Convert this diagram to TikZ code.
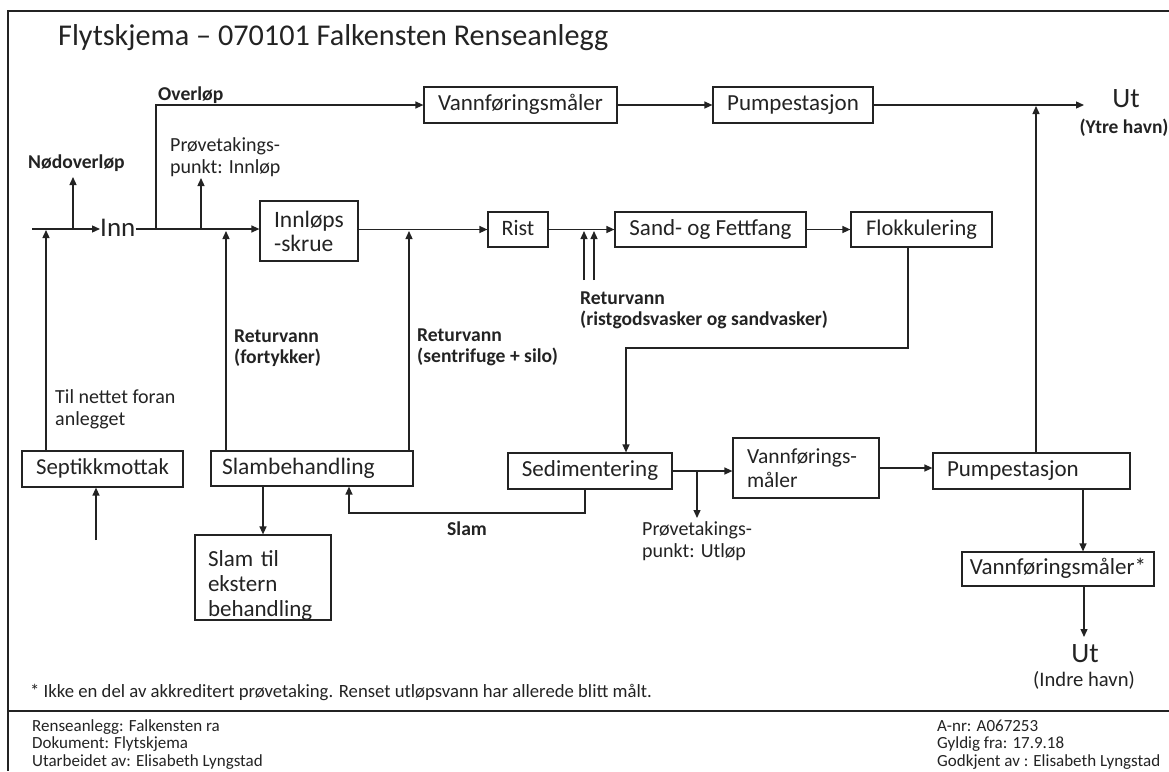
\documentclass[tikz,border=0pt]{standalone}
\usepackage{fontspec}
\setmainfont{Carlito}
\usetikzlibrary{arrows.meta}
\definecolor{ink}{RGB}{35,35,35}
\begin{document}
\begin{tikzpicture}[x=1pt,y=-1pt,
 ln/.style={draw=ink,line width=1.3pt},
 arr/.style={draw=ink,line width=1.3pt,-{Triangle[length=8pt,width=7pt]}},
 box/.style={draw=ink,line width=1.2pt,inner sep=0pt,text=ink,font=\fontsize{23}{25}\selectfont},
 one/.style={text height=16pt,text depth=4.7pt},
 lbl/.style={text=ink,inner sep=0pt,anchor=base west,align=left,font=\fontsize{20}{21.5}\selectfont},
 blbl/.style={text=ink,inner sep=0pt,anchor=base west,align=left,font=\bfseries\fontsize{19.6}{21}\selectfont},
 foot/.style={text=ink,inner sep=0pt,anchor=base west,font=\fontsize{17}{18}\selectfont}]
\useasboundingbox (0,0) rectangle (1169,771);
\fill[white] (0,0) rectangle (1169,771);
% frame
\draw[draw=ink,line width=1.5pt] (1169,11) -- (8,11) -- (8,771);
\draw[draw=ink,line width=1.5pt] (8,711) -- (1169,711);

% title
\node[text=ink,inner sep=0pt,anchor=base west,font=\fontsize{30.2}{34}\selectfont] (title) at (58,45) {Flytskjema – 070101 Falkensten Renseanlegg};

% boxes
\node[box,one,minimum width=193pt,minimum height=36pt] (vm1) at (520.5,105) {Vannføringsmåler};
\node[box,one,minimum width=160pt,minimum height=36pt] (ps1) at (793,105) {Pumpestasjon};
\node[box,minimum width=98pt,minimum height=60pt,align=left,font=\fontsize{23.5}{24}\selectfont] (is) at (309,231) {Innløps\\-skrue};
\node[box,one,minimum width=60pt,minimum height=35pt,font=\fontsize{22}{25}\selectfont] (rist) at (518,229.5) {Rist};
\node[box,one,minimum width=191pt,minimum height=35pt] (sf) at (710.5,229.5) {Sand- og Fettfang};
\node[box,one,minimum width=141pt,minimum height=35pt,font=\fontsize{22.4}{25}\selectfont] (fl) at (921.5,229.5) {Flokkulering};
\node[box,one,minimum width=161pt,minimum height=36pt,font=\fontsize{22.8}{25}\selectfont] (sep) at (102.5,469) {Septikkmottak};
\node[box,one,minimum width=202pt,minimum height=35pt,text width=180pt,inner xsep=11pt,align=left,font=\fontsize{23.5}{25}\selectfont] (sb) at (312,468.5) {Slambehandling};
\node[box,one,minimum width=164pt,minimum height=36pt] (sed) at (590,471) {Sedimentering};
\node[box,minimum width=146pt,minimum height=60pt,text width=118pt,inner xsep=14pt,align=left,font=\fontsize{21.5}{24}\selectfont] (vm2) at (806,468) {Vannførings-\\måler};
\node[box,one,minimum width=197pt,minimum height=36pt,text width=169pt,inner xsep=14pt,align=left] (ps2) at (1031.5,471) {Pumpestasjon};
\node[box,one,minimum width=192pt,minimum height=34pt] (vm3) at (1058,569) {Vannføringsmåler*};
\node[box,minimum width=136pt,minimum height=85pt,text width=110pt,inner xsep=13pt,align=left] (slx) at (263,577.5) {\rule{0pt}{31pt}Slam til\\ekstern\\behandling};

% terminal texts
\node[text=ink,inner sep=0pt,anchor=base west,font=\fontsize{27}{30}\selectfont] (inn) at (100,236) {Inn};
\node[text=ink,inner sep=0pt,anchor=base,font=\fontsize{28}{30}\selectfont] (ut1) at (1126,107) {Ut};
\node[text=ink,inner sep=0pt,anchor=base,font=\bfseries\fontsize{19.5}{20}\selectfont] (ut1b) at (1124,133) {(Ytre havn)};
\node[text=ink,inner sep=0pt,anchor=base,font=\fontsize{28}{30}\selectfont] (ut2) at (1085,662) {Ut};
\node[text=ink,inner sep=0pt,anchor=base,font=\fontsize{20.6}{22}\selectfont] (ut2b) at (1084,686) {(Indre havn)};

% labels (multi-line: placed at the last line's baseline)
\node[blbl] (lover) at (158,100) {Overløp};
\node[blbl] (lnod) at (28,168) {Nødoverløp};
\node[lbl] (lpr1) at (170,173) {Prøvetakings-\\punkt: Innløp};
\node[blbl] (lfort) at (234,363) {Returvann\\(fortykker)};
\node[blbl] (lsent) at (417,362) {Returvann\\(sentrifuge + silo)};
\node[blbl] (lrist) at (580,325) {Returvann\\(ristgodsvasker og sandvasker)};
\node[lbl] (ltil) at (55,425) {Til nettet foran\\anlegget};
\node[blbl] (lslam) at (447,535) {Slam};
\node[lbl] (lpr2) at (642,557) {Prøvetakings-\\punkt: Utløp};

% footnote and footer
\node[text=ink,inner sep=0pt,anchor=base west,font=\fontsize{18.7}{20}\selectfont] (note) at (30,697) {* Ikke en del av akkreditert prøvetaking. Renset utløpsvann har allerede blitt målt.};
\node[foot] (f1) at (32,731) {Renseanlegg: Falkensten ra};
\node[foot] (f2) at (32,748.5) {Dokument: Flytskjema};
\node[foot] (f3) at (32,766) {Utarbeidet av: Elisabeth Lyngstad};
\node[foot] (f4) at (937,731) {A-nr: A067253};
\node[foot] (f5) at (937,748.5) {Gyldig fra: 17.9.18};
\node[foot] (f6) at (937,766) {Godkjent av : Elisabeth Lyngstad};

% coordinates
\coordinate (inStart) at (32,229);
\coordinate (jNod) at (73,229);
\coordinate (nodTop) at (73,177);
\coordinate (jSep) at (46,230);
\coordinate (sepBelow) at (96,540);
\coordinate (jOver) at (156,229);
\coordinate (overTop) at (156,105);
\coordinate (jPr1) at (201,229);
\coordinate (pr1Top) at (201,178);
\coordinate (jFort) at (226,231);
\coordinate (jSentr) at (409,231);
\coordinate (jR1) at (584,231);
\coordinate (jR2) at (594,231);
\coordinate (r1Bot) at (584,280);
\coordinate (r2Bot) at (594,280);
\coordinate (c1) at (908,348);
\coordinate (c2) at (626,348);
\coordinate (jPr2) at (697,471);
\coordinate (pr2Bot) at (697,518);
\coordinate (jUt) at (1036,106);
\coordinate (utTip) at (1084,105);
\coordinate (c3) at (1083,520);
\coordinate (c4) at (1084,637);
\coordinate (s1) at (585,513);
\coordinate (s2) at (349,513);
\coordinate (c5) at (263,520);

% connectors
\draw[arr] (inStart) -- (inn.west |- inStart);
\draw[arr] (jNod) -- (nodTop);
\draw[arr] (sep.north -| jSep) -- (jSep);
\draw[arr] (sepBelow) -- (sepBelow |- sep.south);
\draw[arr] (inStart -| inn.east) -- (inStart -| is.west);
\draw[arr] (jOver) -- (overTop) -- (vm1.west);
\draw[arr] (jPr1) -- (pr1Top);
\draw[arr] (sb.north -| jFort) -- (jFort);
\draw[arr] (vm1.east) -- (ps1.west);
\draw[arr] (ps1.east) -- (utTip);
\draw[arr] (is.east |- rist.west) -- (rist.west);
\draw[arr] (sb.north -| jSentr) -- (jSentr);
\draw[arr] (rist.east) -- (sf.west);
\draw[arr] (r1Bot) -- (jR1);
\draw[arr] (r2Bot) -- (jR2);
\draw[arr] (sf.east) -- (fl.west);
\draw[arr] (fl.south -| c1) -- (c1) -- (c2) -- (c2 |- sed.north);
\draw[arr] (sed.east) -- (sed.east -| vm2.west);
\draw[arr] (jPr2) -- (pr2Bot);
\draw[arr] (vm2.east) -- (vm2.east -| ps2.west);
\draw[arr] (ps2.north -| jUt) -- (jUt);
\draw[arr] (ps2.south -| c3) -- (c3 |- vm3.north);
\draw[arr] (vm3.south -| c4) -- (c4);
\draw[arr] (sed.south -| s1) -- (s1) -- (s2) -- (s2 |- sb.south);
\draw[arr] (sb.south -| c5) -- (c5 |- slx.north);
\end{tikzpicture}
\end{document}
